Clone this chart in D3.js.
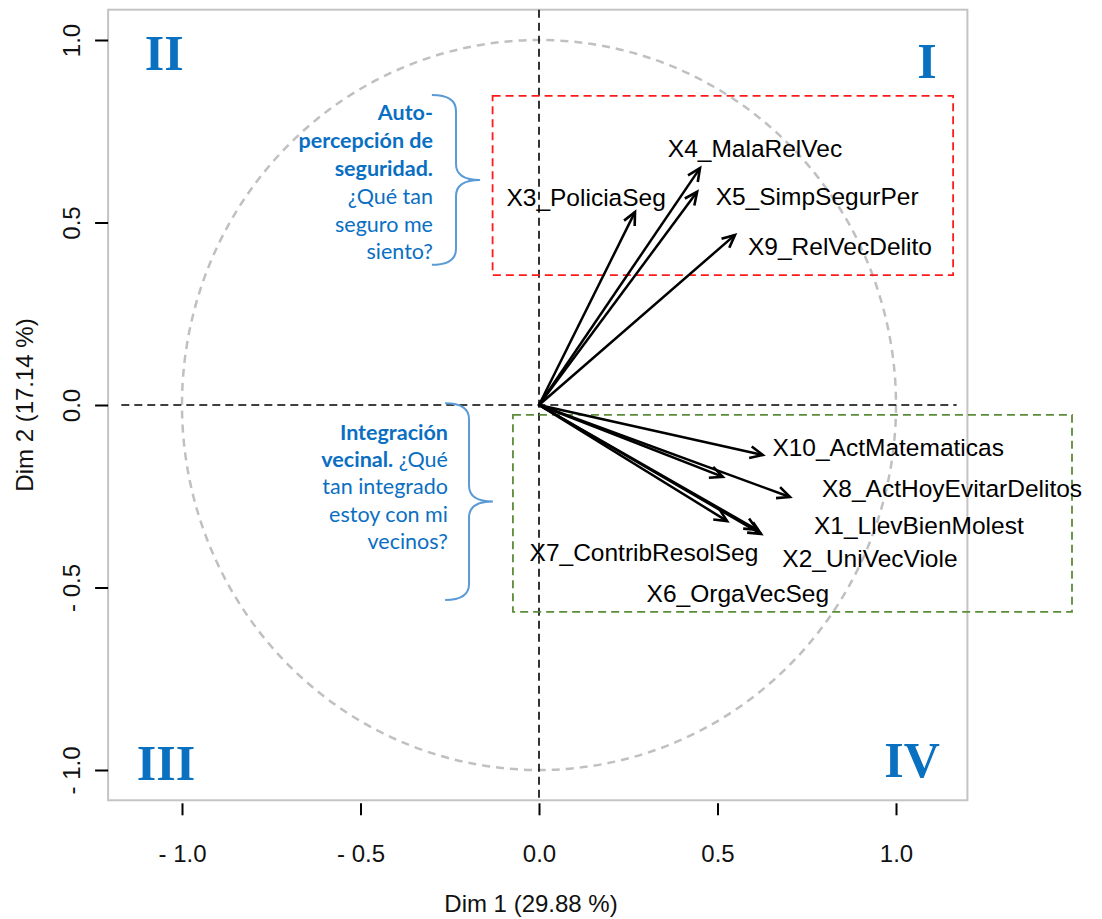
<!DOCTYPE html>
<html>
<head>
<meta charset="utf-8">
<script src="https://cdn.jsdelivr.net/npm/d3@7"></script>
<style>
body { margin: 0; background: #fff; }
</style>
</head>
<body>
<script>
// variable loadings on the first two dimensions
var varNames = ["X1_LlevBienMolest", "X2_UniVecViole", "X3_PoliciaSeg", "X4_MalaRelVec", "X5_SimpSegurPer",
  "X6_OrgaVecSeg", "X7_ContribResolSeg", "X8_ActHoyEvitarDelitos", "X9_RelVecDelito", "X10_ActMatematicas"];
var dim1 = [0.622, 0.611, 0.269, 0.451, 0.443, 0.527, 0.515, 0.703, 0.549, 0.627];
var dim2 = [-0.353, -0.342, 0.529, 0.649, 0.584, -0.318, -0.197, -0.252, 0.466, -0.137];

// where the names were printed (data units)
var labDim1 = [1.064, 0.927, 0.132, 0.605, 0.779, 0.557, 0.294, 1.157, 0.843, 0.978];
var labDim2 = [-0.330, -0.420, 0.570, 0.702, 0.572, -0.516, -0.404, -0.228, 0.435, -0.116];

var tickVals = [-1, -0.5, 0, 0.5, 1];
var xTickLabels = ["- 1.0", "- 0.5", "0.0", "0.5", "1.0"];
var yTickLabels = ["- 1.0", "- 0.5", "0.0", "0.5", "1.0"];

var quadNames = ["I", "II", "III", "IV"];
var quadDim1 = [1.087, -1.050, -1.045, 1.045];
var quadDim2 = [0.896, 0.918, -1.027, -1.019];

var xTitle = "Dim 1 (29.88 %)";
var yTitle = "Dim 2 (17.14 %)";

var W = 1102, H = 919;

var x = d3.scaleLinear().domain([-1, 1]).range([182, 896]);
var y = d3.scaleLinear().domain([-1, 1]).range([770, 40]);
var xLim = [-1.207, 1.2];
var yLim = [-1.083, 1.083];

var svg = d3.select("body").append("svg")
  .attr("width", W)
  .attr("height", H)
  .style("font-family", "'Liberation Sans', Arial, sans-serif");

// plot frame
svg.append("rect")
  .attr("x", x(xLim[0]))
  .attr("y", y(yLim[1]))
  .attr("width", x(xLim[1]) - x(xLim[0]))
  .attr("height", y(yLim[0]) - y(yLim[1]))
  .attr("fill", "none")
  .attr("stroke", "#c4c4c4")
  .attr("stroke-width", 2);

// unit circle
svg.append("ellipse")
  .attr("cx", x(0)).attr("cy", y(0))
  .attr("rx", x(1) - x(0)).attr("ry", y(0) - y(1))
  .attr("fill", "none")
  .attr("stroke", "#c0c0c0")
  .attr("stroke-width", 2.5)
  .attr("stroke-dasharray", "8,6");

// zero lines
svg.append("line")
  .attr("x1", x(-1.17)).attr("x2", x(1.17))
  .attr("y1", y(0)).attr("y2", y(0))
  .attr("stroke", "#000").attr("stroke-width", 1.6)
  .attr("stroke-dasharray", "8,5");
svg.append("line")
  .attr("x1", x(0)).attr("x2", x(0))
  .attr("y1", y(yLim[1])).attr("y2", y(yLim[0]))
  .attr("stroke", "#000").attr("stroke-width", 1.6)
  .attr("stroke-dasharray", "8,5");

// group boxes
var groups = [
  {x0: -0.13, x1: 1.16, y0: 0.356, y1: 0.847, color: "#ff1a1a"},
  {x0: -0.073, x1: 1.493, y0: -0.567, y1: -0.027, color: "#5b8c3a"}
];
svg.selectAll(".grp").data(groups).enter().append("rect")
  .attr("class", "grp")
  .attr("x", function(d) { return x(d.x0); })
  .attr("y", function(d) { return y(d.y1); })
  .attr("width", function(d) { return x(d.x1) - x(d.x0); })
  .attr("height", function(d) { return y(d.y0) - y(d.y1); })
  .attr("fill", "none")
  .attr("stroke", function(d) { return d.color; })
  .attr("stroke-width", 1.8)
  .attr("stroke-dasharray", "8,5");

// axes
var xAxis = svg.append("g")
  .attr("transform", "translate(0," + (y(yLim[0]) + 3) + ")")
  .call(d3.axisBottom(x).tickValues(tickVals).tickSize(12).tickPadding(30)
    .tickFormat(function(d, i) { return xTickLabels[i]; }));
xAxis.select(".domain").remove();
xAxis.selectAll(".tick line").attr("stroke-width", 2);
xAxis.selectAll(".tick text")
  .attr("font-size", 24)
  .attr("font-family", "'Liberation Sans', Arial, sans-serif")
  .attr("fill", "#111");

var yAxis = svg.append("g")
  .attr("transform", "translate(" + x(xLim[0]) + ",0)")
  .call(d3.axisLeft(y).tickValues(tickVals).tickSize(13)
    .tickFormat(function(d, i) { return yTickLabels[i]; }));
yAxis.select(".domain").remove();
yAxis.selectAll(".tick line").attr("stroke-width", 2);
yAxis.selectAll(".tick text")
  .attr("x", null).attr("dy", null)
  .attr("transform", "translate(-28,0) rotate(-90)")
  .attr("text-anchor", "middle")
  .attr("font-size", 24)
  .attr("font-family", "'Liberation Sans', Arial, sans-serif")
  .attr("fill", "#111");

// axis titles
svg.append("text")
  .attr("x", x(0) - 8).attr("y", 912)
  .attr("text-anchor", "middle")
  .attr("font-size", 24)
  .attr("fill", "#111")
  .text(xTitle);
svg.append("text")
  .attr("transform", "translate(33," + y(0) + ") rotate(-90)")
  .attr("text-anchor", "middle")
  .attr("font-size", 24)
  .attr("fill", "#111")
  .text(yTitle);

// arrows
var vars = varNames.map(function(n, i) {
  return {name: n, d1: dim1[i], d2: dim2[i], l1: labDim1[i], l2: labDim2[i]};
});

var arrows = svg.append("g");
arrows.selectAll("line").data(vars).enter().append("line")
  .attr("x1", x(0)).attr("y1", y(0))
  .attr("x2", function(d) { return x(d.d1); })
  .attr("y2", function(d) { return y(d.d2); })
  .attr("stroke", "#000")
  .attr("stroke-width", 2.5);

function headPath(d) {
  var tx = x(d.d1), ty = y(d.d2);
  var a = Math.atan2(ty - y(0), tx - x(0));
  var len = 14, spread = 25 * Math.PI / 180;
  var p1 = [tx - len * Math.cos(a - spread), ty - len * Math.sin(a - spread)];
  var p2 = [tx - len * Math.cos(a + spread), ty - len * Math.sin(a + spread)];
  return "M" + p1 + "L" + tx + "," + ty + "L" + p2;
}
arrows.selectAll("path").data(vars).enter().append("path")
  .attr("d", headPath)
  .attr("fill", "none")
  .attr("stroke", "#000")
  .attr("stroke-width", 2.6);

svg.append("g").selectAll("text").data(vars).enter().append("text")
  .attr("x", function(d) { return x(d.l1); })
  .attr("y", function(d) { return y(d.l2); })
  .attr("dy", "0.35em")
  .attr("text-anchor", "middle")
  .attr("font-size", 24.5)
  .attr("fill", "#000")
  .text(function(d) { return d.name; });

// quadrant numerals
svg.append("g").selectAll("text").data(quadNames).enter().append("text")
  .attr("x", function(d, i) { return x(quadDim1[i]); })
  .attr("y", function(d, i) { return y(quadDim2[i]); })
  .attr("text-anchor", "middle")
  .attr("font-family", "'Liberation Serif', 'Times New Roman', serif")
  .attr("font-weight", "bold")
  .attr("font-size", 50)
  .attr("fill", "#0a70c0")
  .text(function(d) { return d; });

// bracketed notes on the left
var notes = [
  {right: -0.297, top: 0.780, lh: 27.8, left: -0.300, tip: -0.165, yTop: 0.849, yBot: 0.384,
   lines: [[["Auto-", 1]], [["percepción de", 1]], [["seguridad.", 1]], [["¿Qué tan", 0]], [["seguro me", 0]], [["siento?", 0]]]},
  {right: -0.255, top: -0.096, lh: 27.2, left: -0.263, tip: -0.129, yTop: 0.005, yBot: -0.534,
   lines: [[["Integración", 1]], [["vecinal.", 1], [" ¿Qué", 0]], [["tan integrado", 0]], [["estoy con mi", 0]], [["vecinos?", 0]]]}
];

notes.forEach(function(n) {
  var t = svg.append("text")
    .attr("text-anchor", "end")
    .attr("font-family", "Lato, 'Open Sans', sans-serif")
    .attr("font-size", 21.5)
    .attr("fill", "#0a6fc2");
  n.lines.forEach(function(line, i) {
    line.forEach(function(seg, j) {
      var ts = t.append("tspan")
        .attr("font-weight", seg[1] ? "bold" : "normal")
        .text(seg[0]);
      if (j === 0) ts.attr("x", x(n.right)).attr("y", y(n.top) + i * n.lh);
    });
  });

  var l = x(n.left), tp = x(n.tip), m = l + (tp - l) * 0.5;
  var t0 = y(n.yTop), b = y(n.yBot), c = (t0 + b) / 2, r = 16;
  var p = "M" + l + "," + t0 +
    "Q" + m + "," + t0 + " " + m + "," + (t0 + r) +
    "L" + m + "," + (c - r) +
    "Q" + m + "," + c + " " + tp + "," + c +
    "Q" + m + "," + c + " " + m + "," + (c + r) +
    "L" + m + "," + (b - r) +
    "Q" + m + "," + b + " " + l + "," + b;
  svg.append("path")
    .attr("d", p)
    .attr("fill", "none")
    .attr("stroke", "#5b9bd5")
    .attr("stroke-width", 2);
});
</script>
</body>
</html>
